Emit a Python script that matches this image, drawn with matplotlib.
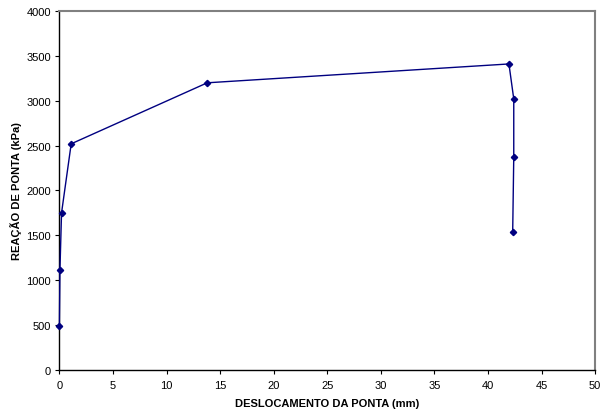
import matplotlib
matplotlib.use('AGG')
import matplotlib.pyplot as plt

plt.rcParams['font.family'] = ['Liberation Sans', 'DejaVu Sans']

# data
deslocamento = [0.0, 0.05, 0.2, 1.1, 13.8, 41.95, 42.4, 42.4, 42.3]
reacao = [490, 1110, 1750, 2520, 3200, 3410, 3020, 2370, 1535]

xticks = list(range(0, 51, 5))
yticks = list(range(0, 4001, 500))

fig = plt.figure(figsize=(6.0, 4.14), dpi=100)
ax = fig.add_axes([0.099, 0.104, 0.893, 0.867])

ax.plot(deslocamento, reacao, color='#000080', linewidth=1.0,
        marker='D', markersize=3.2, markerfacecolor='#000080',
        markeredgecolor='#000080', clip_on=False, zorder=3)

ax.set_xlim(0, 50)
ax.set_ylim(0, 4000)
ax.set_xticks(xticks)
ax.set_yticks(yticks)
ax.tick_params(axis='both', labelsize=8, length=3, width=0.8, direction='out')
ax.tick_params(axis='x', pad=4)
ax.tick_params(axis='y', pad=3)

for side in ('left', 'bottom'):
    ax.spines[side].set_color('black')
    ax.spines[side].set_linewidth(1.0)
for side in ('top', 'right'):
    ax.spines[side].set_color('#808080')
    ax.spines[side].set_linewidth(1.5)

ax.set_xlabel('DESLOCAMENTO DA PONTA (mm)', fontsize=8, fontweight='bold', labelpad=6)
ax.set_ylabel('REAÇÃO DE PONTA (kPa)', fontsize=8, fontweight='bold', labelpad=3)

fig.savefig('out.png', dpi=100)
